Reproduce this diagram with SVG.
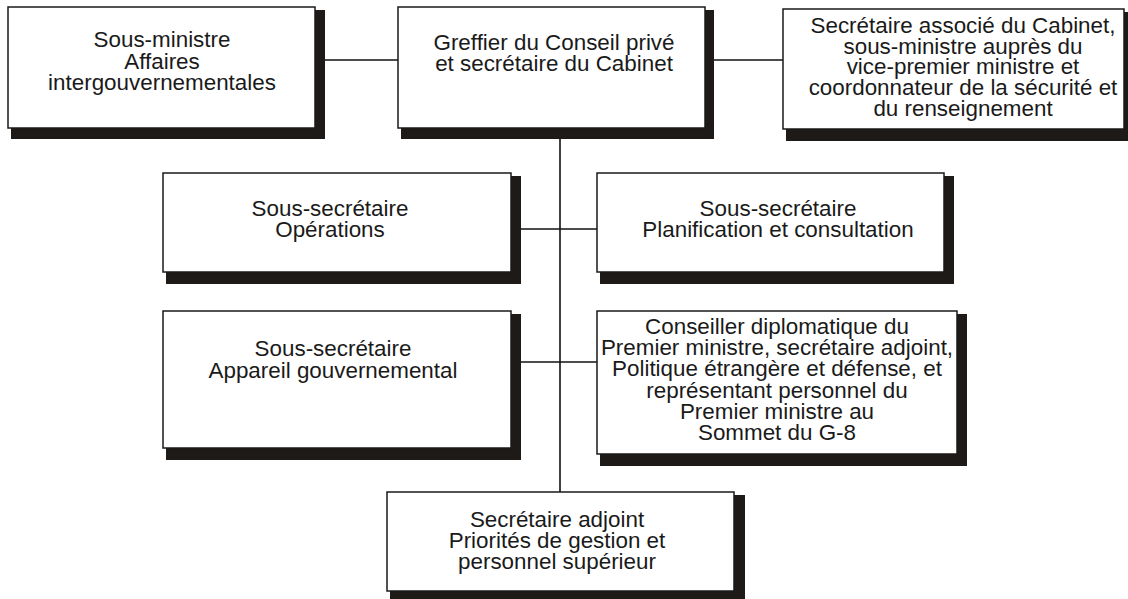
<svg xmlns="http://www.w3.org/2000/svg" width="1128" height="599" viewBox="0 0 1128 599">
<style>
.bx{fill:#fff;stroke:#1a1a1a;stroke-width:1.5}
.sh{fill:#1e1a17}
.t{font-family:"Liberation Sans",Arial,sans-serif;font-size:22.4px;fill:#1a1a1a;text-anchor:middle}
.ln{stroke:#111;stroke-width:1.6;fill:none}
</style>
<rect width="1128" height="599" fill="#fff"/>
<g id="connectors">
<line class="ln" x1="325" y1="60" x2="398" y2="60" stroke-width="2.6"/>
<line class="ln" x1="714" y1="60" x2="783" y2="60"/>
<line class="ln" x1="560" y1="139" x2="560" y2="492"/>
<line class="ln" x1="521" y1="229" x2="597" y2="229"/>
<line class="ln" x1="521" y1="362" x2="597" y2="362"/>
</g>
<g id="n1">
<rect class="sh" x="11" y="10" width="314" height="129"/>
<rect class="bx" x="8" y="7" width="307" height="121"/>
<text class="t" x="162" y="47">Sous-ministre<tspan x="162" dy="21.5">Affaires</tspan><tspan x="162" dy="21.5">intergouvernementales</tspan></text>
</g>
<g id="n2">
<rect class="sh" x="401" y="10" width="313" height="129"/>
<rect class="bx" x="398" y="7" width="307" height="121"/>
<text class="t" x="554" y="49.5">Greffier du Conseil privé<tspan x="554" dy="21.5">et secrétaire du Cabinet</tspan></text>
</g>
<g id="n3">
<rect class="sh" x="786" y="12" width="348" height="129"/>
<rect class="bx" x="783" y="9" width="341" height="120"/>
<text class="t" x="963" y="33">Secrétaire associé du Cabinet,<tspan x="963" dy="20.7">sous-ministre auprès du</tspan><tspan x="963" dy="20.7">vice-premier ministre et</tspan><tspan x="963" dy="20.7">coordonnateur de la sécurité et</tspan><tspan x="963" dy="20.7">du renseignement</tspan></text>
</g>
<g id="n4">
<rect class="sh" x="166" y="176" width="355" height="108"/>
<rect class="bx" x="163" y="173" width="348" height="99"/>
<text class="t" x="330" y="215.5">Sous-secrétaire<tspan x="330" dy="21.5">Opérations</tspan></text>
</g>
<g id="n5">
<rect class="sh" x="600" y="176" width="354" height="108"/>
<rect class="bx" x="597" y="173" width="347" height="99"/>
<text class="t" x="778" y="215.5">Sous-secrétaire<tspan x="778" dy="21.5">Planification et consultation</tspan></text>
</g>
<g id="n6">
<rect class="sh" x="166" y="314" width="355" height="146"/>
<rect class="bx" x="163" y="311" width="348" height="137"/>
<text class="t" x="333" y="355.5">Sous-secrétaire<tspan x="333" dy="22">Appareil gouvernemental</tspan></text>
</g>
<g id="n7">
<rect class="sh" x="600" y="314" width="367" height="152"/>
<rect class="bx" x="597" y="311" width="360" height="143"/>
<text class="t" x="777" y="334">Conseiller diplomatique du<tspan x="777" dy="21.2">Premier ministre, secrétaire adjoint,</tspan><tspan x="777" dy="21.2">Politique étrangère et défense, et</tspan><tspan x="777" dy="21.2">représentant personnel du</tspan><tspan x="777" dy="21.2">Premier ministre au</tspan><tspan x="777" dy="21.2">Sommet du G-8</tspan></text>
</g>
<g id="n8">
<rect class="sh" x="390" y="495" width="355" height="108"/>
<rect class="bx" x="387" y="492" width="347" height="99"/>
<text class="t" x="557" y="526.5">Secrétaire adjoint<tspan x="557" dy="21">Priorités de gestion et</tspan><tspan x="557" dy="21">personnel supérieur</tspan></text>
</g>
</svg>
